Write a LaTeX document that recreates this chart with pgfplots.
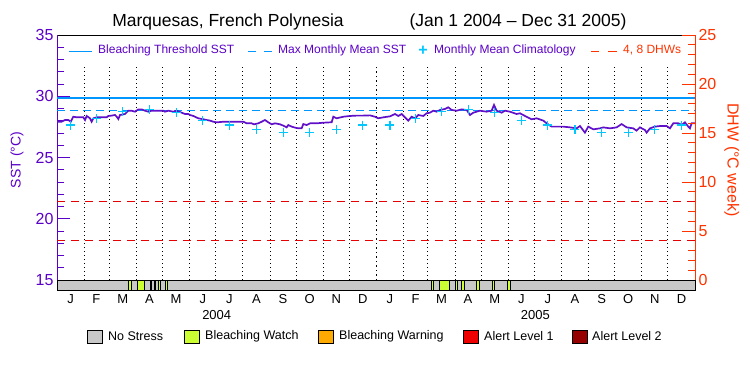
\documentclass[border=0pt]{standalone}
\usepackage{pgfplots}
\pgfplotsset{compat=1.18}
\usepackage{fontspec}
\setmainfont{Liberation Sans}
\definecolor{sstpurple}{RGB}{90,0,200}
\definecolor{linepurple}{RGB}{96,16,200}
\definecolor{thrblue}{RGB}{0,150,255}
\definecolor{climcyan}{RGB}{0,200,255}
\definecolor{dhwred}{RGB}{230,0,0}
\definecolor{axred}{RGB}{255,51,0}
\definecolor{nostress}{RGB}{200,200,200}
\definecolor{watch}{RGB}{204,255,51}
\definecolor{warning}{RGB}{255,170,0}
\definecolor{alertone}{RGB}{238,0,0}
\definecolor{alerttwo}{RGB}{150,0,0}
\begin{document}
\begin{tikzpicture}[x=1pt,y=1pt]
\path[use as bounding box] (0,0) rectangle (750,-375);
% title
\node[font=\fontsize{17.5}{18}\selectfont] at (228,-22) {Marquesas, French Polynesia};
\node[font=\fontsize{17.5}{18}\selectfont] at (518,-22) {(Jan 1 2004 – Dec 31 2005)};

% SST axis
\begin{axis}[
  at={(57pt,-35pt)}, anchor=north west, scale only axis,
  width=638pt, height=245pt,
  xmin=0, xmax=731, ymin=15, ymax=35,
  axis x line*=top, axis y line*=left,
  x axis line style={black, line width=0.8pt, -},
  y axis line style={sstpurple, line width=1pt, -},
  xtick=\empty,
  ytick={15,20,25,30,35},
  minor ytick={16,17,18,19,21,22,23,24,26,27,28,29,31,32,33,34},
  tick align=inside, major tick length=13pt, minor tick length=7pt,
  y tick style={sstpurple, line width=1pt},
  yticklabel style={font=\fontsize{16}{16}\selectfont, text=sstpurple},
  /pgf/number format/assume math mode=true,
  ylabel={SST (°C)},
  ylabel style={at={(axis description cs:-0.0627,0.49)}, anchor=center,
    font=\fontsize{14}{14}\selectfont, text=sstpurple},
  unbounded coords=jump,
]
% month boundaries
\addplot[black, line width=0.9pt, dash pattern=on 1pt off 3pt] coordinates {
(31,15) (31,32.55) (31,nan)
(60,15) (60,32.55) (60,nan)
(91,15) (91,32.55) (91,nan)
(121,15) (121,32.55) (121,nan)
(152,15) (152,32.55) (152,nan)
(182,15) (182,32.55) (182,nan)
(213,15) (213,32.55) (213,nan)
(244,15) (244,32.55) (244,nan)
(274,15) (274,32.55) (274,nan)
(305,15) (305,32.55) (305,nan)
(335,15) (335,32.55) (335,nan)
(397,15) (397,32.55) (397,nan)
(425,15) (425,32.55) (425,nan)
(456,15) (456,32.55) (456,nan)
(486,15) (486,32.55) (486,nan)
(517,15) (517,32.55) (517,nan)
(547,15) (547,32.55) (547,nan)
(578,15) (578,32.55) (578,nan)
(609,15) (609,32.55) (609,nan)
(639,15) (639,32.55) (639,nan)
(670,15) (670,32.55) (670,nan)
(700,15) (700,32.55)
};
\addplot[black, line width=1.8pt, dash pattern=on 1.5pt off 3pt] coordinates {(366,15) (366,32.55)};
% thresholds
\addplot[thrblue, line width=1.2pt] coordinates {(0,29.85) (731,29.85)};
\addplot[thrblue, line width=1.2pt, dash pattern=on 8pt off 5pt] coordinates {(0,28.85) (731,28.85)};
% SST
\addplot[linepurple, line width=1.7pt] coordinates {
(0,27.92) (5.3,27.92) (9.2,28.06) (13,28.06) (15.7,27.92) (18.7,28.33) (22.5,28.28)
(26.4,28.28) (30.2,28.28) (32.1,28.06) (34,28.39) (37.8,28.2) (39.7,27.92) (41.6,28.2)
(45.4,28.28) (51.2,28.28) (56.9,28.28) (58.8,28.39) (62.6,28.42) (66.5,28.47) (68.4,28.33)
(70.3,28.14) (72.2,28.47) (77.9,28.55) (81.7,28.82) (85.5,28.82) (89.4,28.74) (93.2,28.93)
(97,28.93) (100.8,28.82) (104.6,28.74) (108.5,28.82) (114.2,28.82) (121.8,28.82) (123.7,28.74)
(127.6,28.82) (133.3,28.74) (137.1,28.82) (142.8,28.66) (146.7,28.55) (150.5,28.55)
(152.4,28.47) (156.2,28.39) (161.9,28.2) (167.7,28.12) (171.5,28.06) (175.3,28.01)
(179.1,27.92) (183,27.87) (190.6,27.92) (200.1,27.92) (209.7,27.92) (213.5,27.92)
(217.3,27.79) (223,27.79) (225.7,27.71) (230.7,27.79) (234.5,27.92) (238.3,28.06)
(242.1,27.87) (246,27.71) (249.8,27.79) (255.5,27.71) (259.3,27.6) (263.1,27.46)
(265,27.65) (268.9,27.52) (272.7,27.44) (276.5,27.38) (280.3,27.38) (282.2,27.73)
(286.1,27.65) (289.9,27.79) (297.5,27.79) (305.1,27.84) (312.8,27.87) (314.7,27.87)
(316.6,28.33) (320.4,28.2) (328.1,28.33) (335.7,28.39) (343.3,28.42) (350.9,28.42)
(358.6,28.44) (364.3,28.33) (368.1,28.2) (373.9,28.28) (381.5,28.36) (387.2,28.55)
(391.1,28.39) (394.9,28.55) (398.7,28.28) (402.5,28.01) (406.3,28.33) (410.2,28.2)
(414,28.47) (419.7,28.39) (423.5,28.61) (427.3,28.66) (431.2,28.82) (435,28.74)
(438.8,28.88) (444.5,28.96) (448.3,29.1) (452.2,28.88) (457.9,28.82) (463.6,28.93)
(469.4,28.88) (473.2,28.47) (477,28.66) (484.6,28.82) (492.3,28.74) (498,28.82)
(500.7,29.29) (503.7,28.82) (509.5,28.66) (513.3,28.82) (519,28.74) (526.6,28.55)
(530.5,28.61) (536.2,28.39) (543.8,28.12) (549.6,28.2) (557.2,28.01) (561,27.79)
(566.7,27.52) (572.5,27.52) (580.1,27.52) (587.7,27.46) (595.4,27.38) (599.2,27.57)
(604.9,27.03) (608.7,27.52) (614.5,27.3) (622.1,27.38) (625.9,27.46) (633.6,27.38)
(641.2,27.46) (646.9,27.73) (652.7,27.46) (660.3,27.38) (664.1,27.19) (667.9,27.46)
(673.7,27.24) (675.6,27.03) (679.4,27.38) (685.1,27.52) (690.9,27.57) (698.5,27.57)
(702.3,27.38) (706.1,27.79) (711.9,27.79) (715.7,27.65) (719.5,27.87) (723.3,27.52)
(725.2,27.38) (727.1,27.79) (731,27.79)
};
% monthly mean climatology
\addplot[only marks, mark=+, climcyan, mark size=4.5pt, line width=1.1pt] coordinates {
(15.5,27.65) (45,28.15) (75.5,28.74) (106,28.93) (136.5,28.7) (167,28.01)
(197.5,27.65) (228.5,27.27) (259,27.03) (289.5,27.03) (320,27.3) (350.5,27.65)
(381.5,27.65) (411,28.15) (440.5,28.74) (471,28.93) (501.5,28.7) (532,28.01)
(562.5,27.65) (593.5,27.27) (624,27.03) (654.5,27.03) (685,27.3) (715.5,27.65)
};
\end{axis}

% DHW axis
\begin{axis}[
  at={(57pt,-35pt)}, anchor=north west, scale only axis,
  width=638pt, height=245pt,
  xmin=0, xmax=731, ymin=0, ymax=25,
  axis x line=none, axis y line*=right,
  y axis line style={axred, line width=1pt, -},
  ytick={0,5,10,15,20,25},
  minor ytick={1,2,3,4,6,7,8,9,11,12,13,14,16,17,18,19,21,22,23,24},
  tick align=inside, major tick length=13pt, minor tick length=7pt,
  y tick style={axred, line width=1pt},
  yticklabel style={font=\fontsize{16}{16}\selectfont, text=axred},
  /pgf/number format/assume math mode=true,
  ylabel={DHW (°C week)},
  ylabel style={at={(axis description cs:1.0575,0.49)}, anchor=center, rotate=180,
    font=\fontsize{16}{16}\selectfont, text=axred},
]
\addplot[dhwred, line width=1.1pt, dash pattern=on 8pt off 6pt] coordinates {(0,4) (731,4)};
\addplot[dhwred, line width=1.1pt, dash pattern=on 8pt off 6pt] coordinates {(0,8) (731,8)};
\end{axis}

% stress bar
\begin{axis}[
  at={(57pt,-280pt)}, anchor=north west, scale only axis,
  width=638pt, height=10pt,
  xmin=0, xmax=731, ymin=0, ymax=1,
  axis on top,
  axis line style={black, line width=0.9pt},
  ytick=\empty,
  xtick={15.5,45,75.5,106,136.5,167,197.5,228.5,259,289.5,320,350.5,381.5,411,440.5,471,501.5,532,562.5,593.5,624,654.5,685,715.5},
  xticklabels={J,F,M,A,M,J,J,A,S,O,N,D,J,F,M,A,M,J,J,A,S,O,N,D},
  major tick length=0pt,
  xticklabel style={font=\fontsize{13}{13}\selectfont, yshift=-1pt},
  clip=false,
]
\addplot[fill=nostress, draw=none] coordinates {(0,0) (731,0) (731,1) (0,1)} --cycle;
\addplot[fill=watch, draw=black, line width=0.8pt] coordinates {(82,0) (85,0) (85,1) (82,1)} --cycle;
\addplot[fill=watch, draw=black, line width=0.8pt] coordinates {(92.5,0) (100,0) (100,1) (92.5,1)} --cycle;
\addplot[fill=watch, draw=black, line width=0.8pt] coordinates {(107,0) (108.5,0) (108.5,1) (107,1)} --cycle;
\addplot[fill=watch, draw=black, line width=0.8pt] coordinates {(111.5,0) (113,0) (113,1) (111.5,1)} --cycle;
\addplot[fill=watch, draw=black, line width=0.8pt] coordinates {(116,0) (118,0) (118,1) (116,1)} --cycle;
\addplot[fill=watch, draw=black, line width=0.8pt] coordinates {(124.5,0) (127,0) (127,1) (124.5,1)} --cycle;
\addplot[fill=watch, draw=black, line width=0.8pt] coordinates {(428.5,0) (431.2,0) (431.2,1) (428.5,1)} --cycle;
\addplot[fill=watch, draw=black, line width=0.8pt] coordinates {(438,0) (449.5,0) (449.5,1) (438,1)} --cycle;
\addplot[fill=watch, draw=black, line width=0.8pt] coordinates {(456.4,0) (458.7,0) (458.7,1) (456.4,1)} --cycle;
\addplot[fill=watch, draw=black, line width=0.8pt] coordinates {(463.2,0) (467,0) (467,1) (463.2,1)} --cycle;
\addplot[fill=watch, draw=black, line width=0.8pt] coordinates {(480.8,0) (483.8,0) (483.8,1) (480.8,1)} --cycle;
\addplot[fill=watch, draw=black, line width=0.8pt] coordinates {(498.8,0) (501,0) (501,1) (498.8,1)} --cycle;
\addplot[fill=watch, draw=black, line width=0.8pt] coordinates {(516,0) (519,0) (519,1) (516,1)} --cycle;
\node[font=\fontsize{13}{13}\selectfont] at (axis cs:183,0) [yshift=-25pt] {2004};
\node[font=\fontsize{13}{13}\selectfont] at (axis cs:548,0) [yshift=-25pt] {2005};
\end{axis}

% top legend
\begin{scope}[font=\fontsize{12}{12}\selectfont]
\draw[thrblue, line width=1.5pt] (69,-51.5) -- (92,-51.5);
\node[anchor=west, inner sep=0pt, text=sstpurple] at (98,-50.5) {Bleaching Threshold SST};
\draw[thrblue, line width=1.5pt] (248,-51.5) -- (256,-51.5) (264,-51.5) -- (272,-51.5);
\node[anchor=west, inner sep=0pt, text=sstpurple] at (278,-50.5) {Max Monthly Mean SST};
\node[text=climcyan, inner sep=0pt, font=\fontsize{16}{16}\selectfont\bfseries] at (423,-50.5) {+};
\node[anchor=west, inner sep=0pt, text=sstpurple] at (434,-50.5) {Monthly Mean Climatology};
\draw[axred, line width=1.5pt] (591,-51.5) -- (599,-51.5) (608,-51.5) -- (617,-51.5);
\node[anchor=west, inner sep=0pt, text=axred] at (623,-50.5) {4, 8 DHWs};
\end{scope}

% bottom legend
\begin{scope}[font=\fontsize{12.5}{12.5}\selectfont]
\draw[fill=nostress, line width=0.8pt] (87,-330) rectangle (102,-343);
\node[anchor=west, inner sep=0pt] at (108,-336.5) {No Stress};
\draw[fill=watch, line width=0.8pt] (184,-330) rectangle (199,-343);
\node[anchor=west, inner sep=0pt] at (205,-336.5) {Bleaching Watch};
\draw[fill=warning, line width=0.8pt] (318,-330) rectangle (333,-343);
\node[anchor=west, inner sep=0pt] at (339,-336.5) {Bleaching Warning};
\draw[fill=alertone, line width=0.8pt] (463,-330) rectangle (478,-343);
\node[anchor=west, inner sep=0pt] at (484,-336.5) {Alert Level 1};
\draw[fill=alerttwo, line width=0.8pt] (572,-330) rectangle (587,-343);
\node[anchor=west, inner sep=0pt] at (592,-336.5) {Alert Level 2};
\end{scope}
\end{tikzpicture}
\end{document}
